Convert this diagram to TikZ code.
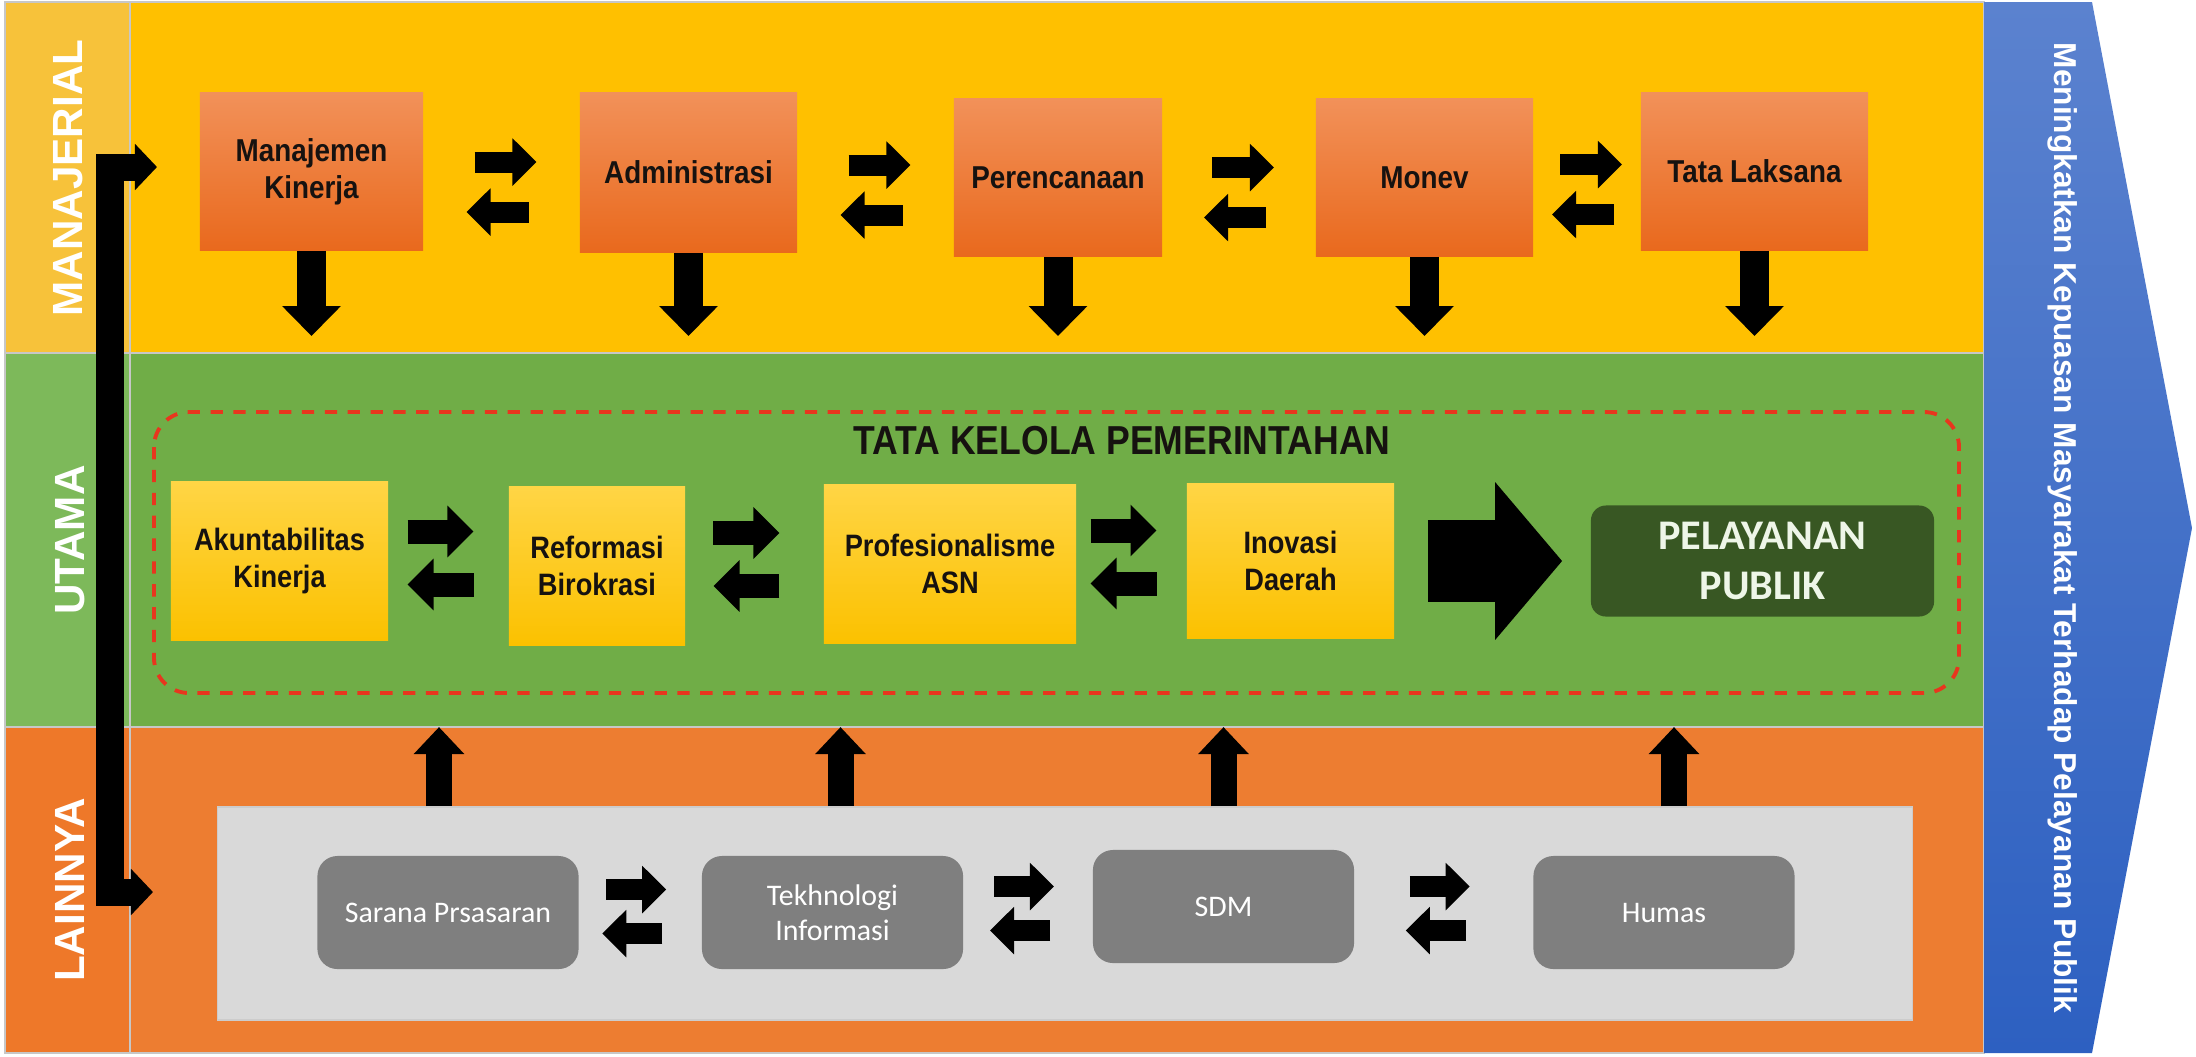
\documentclass[tikz,border=0pt]{standalone}
\usepackage{fontspec}
\setmainfont{Liberation Sans}
\newfontfamily\condfont[FakeStretch=0.88]{Liberation Sans}
\newfontfamily\calfont{Carlito}
\usetikzlibrary{positioning,arrows.meta,calc}
\definecolor{manabg}{HTML}{FFC000}
\definecolor{manastrip}{HTML}{F7C23A}
\definecolor{utamabg}{HTML}{70AD47}
\definecolor{utamastrip}{HTML}{7DB95A}
\definecolor{lainbg}{HTML}{ED7D31}
\definecolor{lainstrip}{HTML}{EE7829}
\definecolor{boxtop}{HTML}{F29159}
\definecolor{boxbot}{HTML}{E9691D}
\definecolor{goldtop}{HTML}{FFD545}
\definecolor{goldbot}{HTML}{FBC100}
\definecolor{pubgreen}{HTML}{385723}
\definecolor{pubtext}{HTML}{EEF6E8}
\definecolor{panelgrey}{HTML}{D9D9D9}
\definecolor{cardgrey}{HTML}{7F7F7F}
\definecolor{dashred}{HTML}{E8361E}
\definecolor{bluetop}{HTML}{5B82CF}
\definecolor{bluebot}{HTML}{2D60C1}
\definecolor{ink}{HTML}{161210}

\begin{document}
\begin{tikzpicture}[x=0.01cm,y=-0.01cm,
  band/.style={draw=black!22,line width=0.5pt},
  lanelbl/.style={rotate=90,text=white,font=\bfseries\fontsize{12}{12}\selectfont},
  manbox/.style={inner sep=0pt,align=center,top color=boxtop,bottom color=boxbot,text=ink,font=\condfont\bfseries\fontsize{9}{10.5}\selectfont},
  goldbox/.style={inner sep=0pt,align=center,top color=goldtop,bottom color=goldbot,text=ink,font=\condfont\bfseries\fontsize{8.8}{10.5}\selectfont},
  card/.style={fill=cardgrey,rounded corners=0.2cm,inner sep=0pt,align=center,minimum width=2.61cm,minimum height=1.13cm,text=white,font=\calfont\fontsize{8.5}{10}\selectfont},
  pubbox/.style={fill=pubgreen,rounded corners=0.15cm,inner sep=0pt,align=center,minimum width=3.43cm,minimum height=1.11cm,text=pubtext,font=\calfont\bfseries\fontsize{12}{14}\selectfont},
  downarr/.style={-{Triangle[length=0.3cm,width=0.57cm]},line width=0.29cm},
  uparr/.style={-{Triangle[length=0.27cm,width=0.49cm]},line width=0.26cm},
  swaparr/.style={-{Triangle[length=0.24cm,width=0.46cm]},line width=0.21cm},
  swapbig/.style={-{Triangle[length=0.26cm,width=0.5cm]},line width=0.24cm},
  bigarr/.style={-{Triangle[length=0.67cm,width=1.54cm]},line width=0.82cm},
  bracket/.style={{Triangle[length=0.22cm,width=0.45cm]}-{Triangle[length=0.22cm,width=0.45cm]},line width=0.27cm}]
  % background and bands
  \fill[white] (0,0) rectangle (2196,1056);
  \useasboundingbox (0,0) rectangle (2196,1056);
  \fill[manabg,band] (130,2) rectangle (1984,353);
  \fill[utamabg,band] (130,353) rectangle (1984,727);
  \fill[lainbg,band] (130,727) rectangle (1984,1053);
  \fill[manastrip,band] (5,2) rectangle (130,353);
  \fill[utamastrip,band] (5,353) rectangle (130,727);
  \fill[lainstrip,band] (5,727) rectangle (130,1053);
  \shade[top color=bluetop,bottom color=bluebot] (1984,2) -- (2092,2) -- (2192,528) -- (2092,1053) -- (1984,1053) -- cycle;

  \node[lanelbl] (lman) at (68,178) {MANAJERIAL};
  \node[lanelbl] (lut) at (70,540) {UTAMA};
  \node[lanelbl] (llain) at (70,890) {LAINNYA};
  \node[rotate=-90,text=white,font=\bfseries\fontsize{9}{9}\selectfont] (goal) at (2063,528) {Meningkatkan Kepuasan Masyarakat Terhadap Pelayanan Publik};

  % manajerial
  \node[manbox,minimum width=2.23cm,minimum height=1.57cm] (mk) at (311.5,171.5) {Manajemen\\Kinerja};
  \node[manbox,minimum width=2.17cm,minimum height=1.59cm] (adm) at (688.5,172.5) {Administrasi};
  \node[manbox,minimum width=2.08cm,minimum height=1.57cm] (per) at (1058,177.5) {Perencanaan};
  \node[manbox,minimum width=2.17cm,minimum height=1.57cm] (mon) at (1424.5,177.5) {Monev};
  \node[manbox,minimum width=2.27cm,minimum height=1.57cm] (tl) at (1754.5,171.5) {Tata Laksana};

  % utama
  \draw[dashred,line width=1.1pt,dash pattern=on 3.5pt off 3pt,rounded corners=0.35cm] (154,412) rectangle (1959,693);
  \node[font=\condfont\bfseries\fontsize{11.5}{12}\selectfont,text=ink] (tkp) at (1122,441) {TATA KELOLA PEMERINTAHAN};
  \node[goldbox,minimum width=2.17cm,minimum height=1.58cm] (ak) at (279.5,561) {Akuntabilitas\\Kinerja};
  \node[goldbox,minimum width=1.76cm,minimum height=1.58cm] (ref) at (597,566) {Reformasi\\Birokrasi};
  \node[goldbox,minimum width=2.52cm,minimum height=1.58cm] (pro) at (950,564) {Profesionalisme\\ASN};
  \node[goldbox,minimum width=2.07cm,minimum height=1.55cm] (ino) at (1290.5,561) {Inovasi\\Daerah};
  \node[pubbox] (pub) at (1762.5,561) {PELAYANAN\\PUBLIK};

  % lainnya
  \node[fill=panelgrey,draw=black!20,line width=0.5pt,minimum width=16.94cm,minimum height=2.13cm,inner sep=0pt] (lain) at (1065,913.5) {};
  \node[card] (sar) at (448,912.5) {Sarana Prsasaran};
  \node[card] (tek) at (832.5,912.5) {Tekhnologi\\Informasi};
  \node[card] (sdm) at (1223.5,906.5) {SDM};
  \node[card] (hum) at (1664,912.5) {Humas};

  % connectors
  \coordinate (mtip) at (0,336);
  \foreach \n in {mk,adm,per,mon,tl}
    \draw[downarr] (\n.south) -- (\n.south |- mtip);
  \foreach \a/\b in {mk/adm,adm/per,per/mon,mon/tl}{
    \draw[swaparr] ($(\a.east)!0.5!(\b.west)+(-27,-10)$) -- ++(62,0);
    \draw[swaparr] ($(\a.east)!0.5!(\b.west)+(27,40)$) -- ++(-62,0);
  }
  \foreach \a/\b in {ak/ref,ref/pro,pro/ino}{
    \draw[swapbig] ($(\a.east)!0.5!(\b.west)+(-41,-32)$) -- ++(66,0);
    \draw[swapbig] ($(\a.east)!0.5!(\b.west)+(25,21)$) -- ++(-66,0);
  }
  \draw[bigarr] ([xshift=0.33cm]ino.east) -- ([xshift=-0.28cm]pub.west);
  \foreach \a/\b in {sar/tek,tek/sdm,sdm/hum}{
    \draw[swaparr] ($(\a.east)!0.5!(\b.west)+(-34,-23)$) -- ++(60,0);
    \draw[swaparr] ($(\a.east)!0.5!(\b.west)+(22,21)$) -- ++(-60,0);
  }
  \foreach \n/\dx in {sar/-9,tek/8,sdm/0,hum/10}
    \draw[uparr] ($(\n |- lain.north)+(\dx,0)$) -- ++(0,-79);
  \coordinate (ltop) at (157,167);
  \coordinate (lbot) at (153,892);
  \coordinate (lbar) at (110,0);
  \draw[bracket] (ltop) -| (lbar |- lbot) -- (lbot);
\end{tikzpicture}
\end{document}
